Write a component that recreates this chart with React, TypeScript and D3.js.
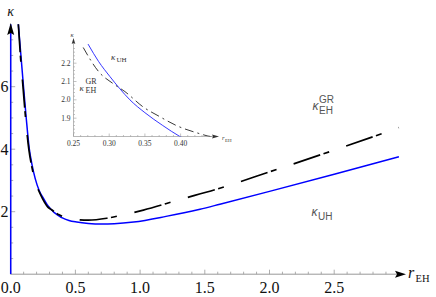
import React from "react";
import * as d3 from "d3";

// κ_UH (blue, solid)
const uhR = [0.059, 0.08, 0.1, 0.12, 0.144, 0.165, 0.19, 0.22, 0.25, 0.271, 0.285, 0.301, 0.315, 0.329, 0.35, 0.375, 0.399, 0.45, 0.51, 0.6, 0.7, 0.8, 0.95, 1.2, 1.463, 1.617, 2.0, 2.5, 3.0];
const uhK = [8.0, 6.95, 5.95, 5.0, 4.0, 3.5, 3.05, 2.68, 2.45, 2.3, 2.21, 2.127, 2.06, 2.0, 1.93, 1.86, 1.8, 1.72, 1.67, 1.625, 1.605, 1.615, 1.67, 1.85, 2.08, 2.24, 2.65, 3.2, 3.76];
// vertical blue branch at r = 0
const uhOriginR = [0, 0];
const uhOriginK = [0, 8];
// κ_EH^GR (black, dash-dotted)
const grR = [0.059, 0.075, 0.095, 0.115, 0.14, 0.165, 0.2, 0.23, 0.2615, 0.287, 0.305, 0.322, 0.348, 0.37, 0.394, 0.427, 0.5, 0.6, 0.742, 0.85, 1.025, 1.3, 1.592, 2.004, 2.5, 3.0];
const grK = [8.0, 7.0, 6.0, 5.0, 4.0, 3.4, 2.85, 2.55, 2.3, 2.146, 2.09, 2.045, 1.96, 1.91, 1.86, 1.815, 1.755, 1.73, 1.79, 1.88, 2.05, 2.38, 2.72, 3.28, 3.97, 4.69];

const xMajor = [0.0, 0.5, 1.0, 1.5, 2.0, 2.5];
const xMajorLabels = ["0.0", "0.5", "1.0", "1.5", "2.0", "2.5"];
const yMajor = [2, 4, 6];
const yMajorLabels = ["2", "4", "6"];
const insetXMajor = [0.25, 0.3, 0.35, 0.4];
const insetXLabels = ["0.25", "0.30", "0.35", "0.40"];
const insetYMajor = [1.9, 2.0, 2.1, 2.2];
const insetYLabels = ["1.9", "2.0", "2.1", "2.2"];

const serif = "'Liberation Serif', 'Times New Roman', Times, serif";
const sans = "'Liberation Sans', Arial, sans-serif";

export default function App() {
  const x = d3.scaleLinear().domain([0, 3]).range([10.7, 398.9]);
  const y = d3.scaleLinear().domain([0, 8]).range([274.2, 24.2]);

  const ix = d3.scaleLinear().domain([0.25, 0.45]).range([73.5, 216.3]);
  const iy = d3.scaleLinear().domain([1.8, 2.3]).range([136.5, 44.85]);

  const uh = uhR.map((r, i) => [r, uhK[i]] as [number, number]);
  const gr = grR.map((r, i) => [r, grK[i]] as [number, number]);
  const uhO = uhOriginR.map((r, i) => [r, uhOriginK[i]] as [number, number]);

  const line = d3.line<[number, number]>().x(d => x(d[0])).y(d => y(d[1])).curve(d3.curveMonotoneX);
  const lineV = d3.line<[number, number]>().x(d => x(d[0])).y(d => y(d[1]));
  const iline = d3.line<[number, number]>().x(d => ix(d[0])).y(d => iy(d[1])).curve(d3.curveMonotoneX);

  const xMinor = d3.range(1, 30).map(i => i / 10).filter(v => Math.abs(v * 2 - Math.round(v * 2)) > 1e-6);
  const yMinor = d3.range(1, 16).map(i => i / 2).filter(v => v % 2 !== 0);
  const ixMinor = d3.range(26, 45).map(i => i / 100).filter(v => Math.abs(v * 20 - Math.round(v * 20)) > 1e-6);
  const iyMinor = d3.range(182, 232, 2).map(i => i / 100).filter(v => Math.abs(v * 10 - Math.round(v * 10)) > 1e-6);

  const axisCol = "#999";
  const x0 = x(0), y0 = y(0);
  const ix0 = ix(0.25), iy0 = iy(1.8);

  return (
    <svg width={436} height={297} style={{ position: "absolute", left: 0, top: 0 }}>
      <defs>
        <clipPath id="mainClip">
          <rect x={x(0) - 2} y={y(8) - 1.5} width={x(3) - x(0) + 4} height={y(0) - y(8) + 1.5} />
        </clipPath>
        <clipPath id="insetClip">
          <rect x={ix(0.25)} y={iy(2.305)} width={ix(0.45) - ix(0.25)} height={iy(1.8) - iy(2.305)} />
        </clipPath>
      </defs>
      <rect width={436} height={297} fill="white" />

      {/* main x axis */}
      <line x1={x0} x2={397} y1={y0} y2={y0} stroke={axisCol} strokeWidth={1} />
      <path d={`M${406},${y0} L${395},${y0 - 3.5} L${397},${y0} L${395},${y0 + 3.5} Z`} fill="black" />
      {xMinor.map((v, i) => (
        <line key={"xm" + i} x1={x(v)} x2={x(v)} y1={y0} y2={y0 - 2.5} stroke={axisCol} strokeWidth={0.8} />
      ))}
      {xMajor.map((v, i) => (
        <g key={"xM" + i}>
          <line x1={x(v)} x2={x(v)} y1={y0} y2={y0 - 4.5} stroke={axisCol} strokeWidth={0.8} />
          <text x={x(v)} y={292.5} textAnchor="middle" style={{ fontFamily: serif }} fontSize={16} fill="#111">{xMajorLabels[i]}</text>
        </g>
      ))}
      <text x={408} y={278} style={{ fontFamily: serif }} fontSize={16} fontStyle="italic" fill="#111">r</text>
      <text x={415.5} y={282} style={{ fontFamily: serif }} fontSize={10.5} fill="#111">EH</text>

      {/* main y axis */}
      <line x1={x0} x2={x0} y1={y0} y2={34} stroke={axisCol} strokeWidth={1} />
      {yMinor.map((v, i) => (
        <line key={"ym" + i} x1={x0} x2={x0 + 2.5} y1={y(v)} y2={y(v)} stroke={axisCol} strokeWidth={0.8} />
      ))}
      {yMajor.map((v, i) => (
        <g key={"yM" + i}>
          <line x1={x0} x2={x0 + 4.5} y1={y(v)} y2={y(v)} stroke={axisCol} strokeWidth={0.8} />
          <text x={8.5} y={y(v) + 5.5} textAnchor="end" style={{ fontFamily: serif }} fontSize={16} fill="#111">{yMajorLabels[i]}</text>
        </g>
      ))}
      <text x={x0} y={16} textAnchor="middle" style={{ fontFamily: serif }} fontSize={14} fontStyle="italic" fill="#111">κ</text>

      {/* main curves */}
      <g clipPath="url(#mainClip)">
        <path d={lineV(uhO) || ""} fill="none" stroke="#0000ff" strokeWidth={1.5} />
        <path d={line(uh) || ""} fill="none" stroke="#0000ff" strokeWidth={1.5} />
        <path d={line(gr) || ""} fill="none" stroke="#000" strokeWidth={1.7} strokeDasharray="28,3.5,6,18" />
      </g>
      <path d={`M${x0},${23} L${x0 - 3.5},${35} L${x0},${33} L${x0 + 3.5},${35} Z`} fill="black" />

      {/* main labels */}
      <text x={312.5} y={110} style={{ fontFamily: sans }} fontSize={12} fontStyle="italic" fill="#555">κ</text>
      <text x={319} y={103} style={{ fontFamily: sans }} fontSize={10} fill="#555">GR</text>
      <text x={319} y={113.5} style={{ fontFamily: sans }} fontSize={10} fill="#555">EH</text>
      <text x={311.5} y={216} style={{ fontFamily: sans }} fontSize={12} fontStyle="italic" fill="#555">κ</text>
      <text x={318} y={219.5} style={{ fontFamily: sans }} fontSize={10} fill="#555">UH</text>

      {/* inset axes */}
      <line x1={ix0} x2={213} y1={iy0} y2={iy0} stroke={axisCol} strokeWidth={0.7} />
      <path d={`M${219},${iy0} L${212},${iy0 - 2} L${213},${iy0} L${212},${iy0 + 2} Z`} fill="#333" />
      {ixMinor.map((v, i) => (
        <line key={"ixm" + i} x1={ix(v)} x2={ix(v)} y1={iy0} y2={iy0 - 1.5} stroke={axisCol} strokeWidth={0.6} />
      ))}
      {insetXMajor.map((v, i) => (
        <g key={"ixM" + i}>
          <line x1={ix(v)} x2={ix(v)} y1={iy0} y2={iy0 - 3} stroke={axisCol} strokeWidth={0.6} />
          <text x={ix(v)} y={146} textAnchor="middle" style={{ fontFamily: serif }} fontSize={7.5} fill="#333">{insetXLabels[i]}</text>
        </g>
      ))}
      <text x={222} y={140} style={{ fontFamily: serif }} fontSize={6.5} fontStyle="italic" fill="#333">r</text>
      <text x={225} y={141.5} style={{ fontFamily: serif }} fontSize={5} fill="#333">EH</text>

      <line x1={ix0} x2={ix0} y1={iy0} y2={43} stroke={axisCol} strokeWidth={0.7} />
      <path d={`M${ix0},${38} L${ix0 - 1.8},${44} L${ix0},${43} L${ix0 + 1.8},${44} Z`} fill="#333" />
      {iyMinor.map((v, i) => (
        <line key={"iym" + i} x1={ix0} x2={ix0 + 1.5} y1={iy(v)} y2={iy(v)} stroke={axisCol} strokeWidth={0.6} />
      ))}
      {insetYMajor.map((v, i) => (
        <g key={"iyM" + i}>
          <line x1={ix0} x2={ix0 + 3} y1={iy(v)} y2={iy(v)} stroke={axisCol} strokeWidth={0.6} />
          <text x={70.5} y={iy(v) + 2.5} textAnchor="end" style={{ fontFamily: serif }} fontSize={7.5} fill="#333">{insetYLabels[i]}</text>
        </g>
      ))}
      <text x={ix0 - 1.5} y={37} textAnchor="middle" style={{ fontFamily: serif }} fontSize={6.5} fontStyle="italic" fill="#333">κ</text>

      {/* inset curves */}
      <g clipPath="url(#insetClip)">
        <path d={iline(uh) || ""} fill="none" stroke="#2020ff" strokeWidth={0.9} />
        <path d={iline(gr) || ""} fill="none" stroke="#222" strokeWidth={0.9} strokeDasharray="9,4,2,4" />
      </g>

      {/* inset labels */}
      <text x={111} y={59.5} style={{ fontFamily: serif }} fontSize={9} fontStyle="italic" fill="#333">κ</text>
      <text x={116.5} y={61.5} style={{ fontFamily: serif }} fontSize={7} fill="#333">UH</text>
      <text x={79.5} y={91} style={{ fontFamily: serif }} fontSize={9} fontStyle="italic" fill="#333">κ</text>
      <text x={85.5} y={84} style={{ fontFamily: serif }} fontSize={8} fill="#333">GR</text>
      <text x={85.5} y={92.5} style={{ fontFamily: serif }} fontSize={8} fill="#333">EH</text>
    </svg>
  );
}
